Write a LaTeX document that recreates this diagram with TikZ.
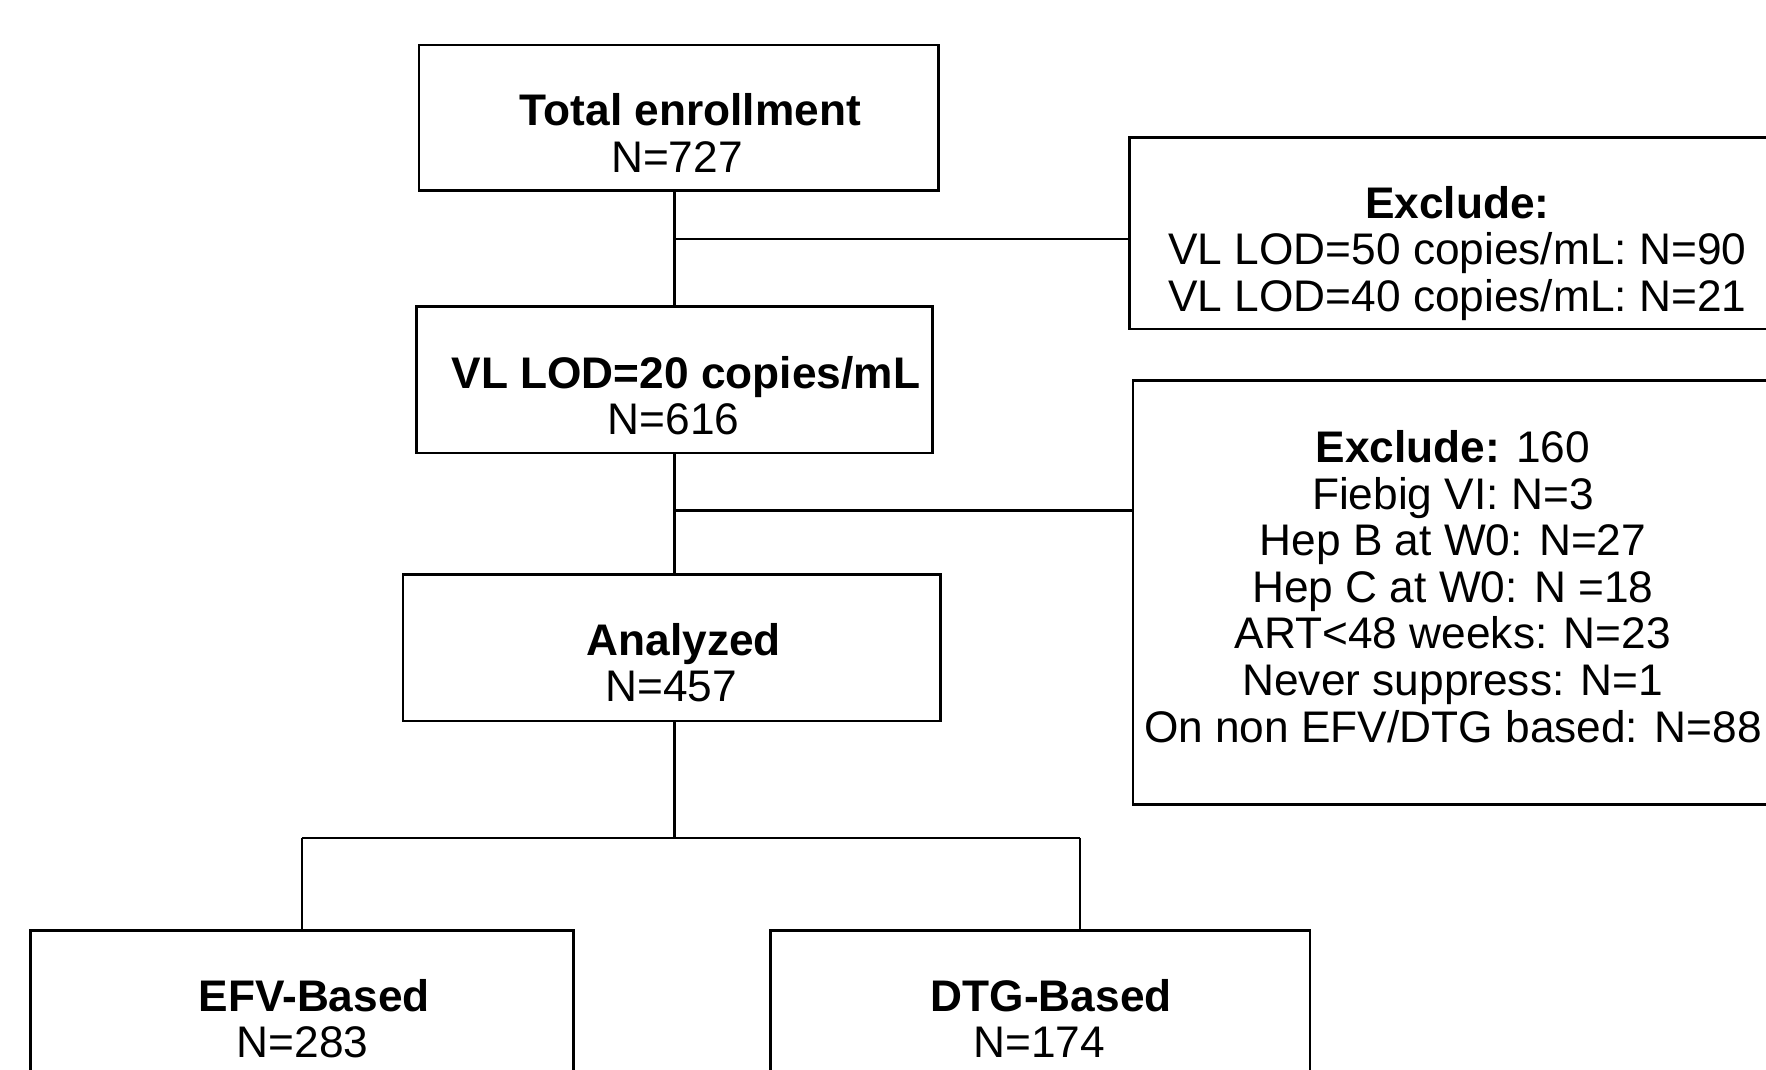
\documentclass[tikz,border=0pt]{standalone}
\usepackage{fontspec}
\setmainfont{Liberation Sans}
\begin{document}
\begin{tikzpicture}[x=0.01cm,y=-0.01cm,
  box/.style={draw,line width=0.65pt,rectangle,inner sep=0pt},
  conn/.style={line width=0.65pt},
  txt/.style={anchor=base,inner sep=0pt,font=\fontsize{11.17pt}{11.7pt}\selectfont},
  btxt/.style={txt,font=\fontsize{11.17pt}{11.7pt}\selectfont\bfseries}]
\useasboundingbox (0,0) rectangle (1568,950);
\clip (0,0) rectangle (1568,950);
\fill[white] (0,0) rectangle (1568,950);
% boxes
\node[box,minimum width=4.61cm,minimum height=1.29cm] (top) at (602.5,104.5) {};
\node[box,minimum width=4.58cm,minimum height=1.30cm] (mid) at (599,337) {};
\node[box,minimum width=4.77cm,minimum height=1.30cm] (ana) at (596.5,575) {};
\node[box,minimum width=5.80cm,minimum height=1.70cm] (ex1) at (1293,207) {};
\node[box,minimum width=5.72cm,minimum height=3.76cm] (ex2) at (1292,526) {};
\node[box,minimum width=4.82cm,minimum height=1.74cm] (efv) at (268,913) {};
\node[box,minimum width=4.79cm,minimum height=1.74cm] (dtg) at (923.5,913) {};
% texts
\node[btxt] (t1a) at (613,111.4) {Total enrollment};
\node[txt]  (t1b) at (601,152.8) {N=727};
\node[btxt] (t2a) at (609,345) {VL LOD=20 copies/mL};
\node[txt]  (t2b) at (598,386) {N=616};
\node[btxt] (t3a) at (607,582) {Analyzed};
\node[txt]  (t3b) at (596,623) {N=457};
\node[btxt] (t4a) at (279,898) {EFV-Based};
\node[txt]  (t4b) at (268.6,939) {N=283};
\node[btxt] (t5a) at (933.4,898) {DTG-Based};
\node[txt]  (t5b) at (922.7,939) {N=174};
\node[btxt] (e1a) at (1294,193.8) {Exclude:};
\node[txt]  (e1b) at (1294,234.8) {VL LOD=50 copies/mL: N=90};
\node[txt]  (e1c) at (1294,277) {VL LOD=40 copies/mL: N=21};
\node[txt]  (e2a) at (1290,411) {\textbf{Exclude:} 160};
\node[txt]  (e2b) at (1290,452.3) {Fiebig VI: N=3};
\node[txt]  (e2c) at (1290,493.6) {Hep B at W0: N=27};
\node[txt]  (e2d) at (1290,534.9) {Hep C at W0: N =18};
\node[txt]  (e2e) at (1290,576.2) {ART<48 weeks: N=23};
\node[txt]  (e2f) at (1290,617.5) {Never suppress: N=1};
\node[txt]  (e2g) at (1290,658.8) {On non EFV/DTG based: N=88};
% connectors
\coordinate (j1) at (599,212);
\coordinate (j2) at (599,453);
\coordinate (j3) at (599,744);
\coordinate (jl) at (268,744);
\coordinate (jr) at (959,744);
\draw[conn] (top.south -| j1) -- (mid.north -| j1);
\draw[conn] (j1) -- (j1 -| ex1.west);
\draw[conn] (mid.south -| j2) -- (ana.north -| j2);
\draw[conn] (j2) -- (j2 -| ex2.west);
\draw[conn] (ana.south -| j3) -- (j3);
\draw[conn] (jl) -- (jr);
\draw[conn] (jl) -- (efv.north -| jl);
\draw[conn] (jr) -- (dtg.north -| jr);
\end{tikzpicture}
\end{document}
